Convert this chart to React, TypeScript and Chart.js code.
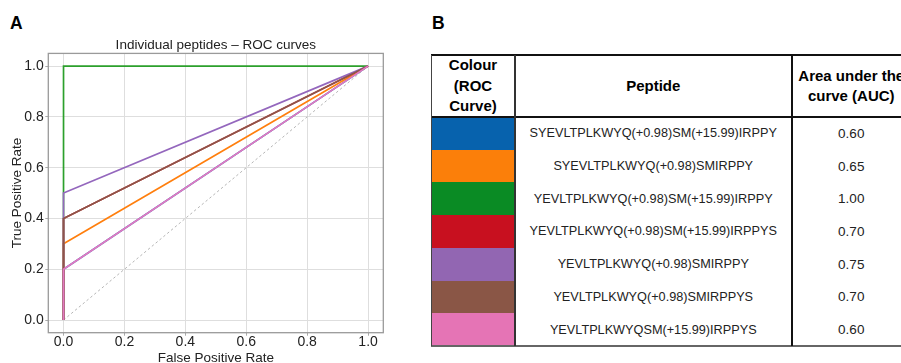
import React, { useEffect, useRef } from "react";
import { Chart, registerables } from "chart.js";

Chart.register(...registerables);

// ---------- data ----------
const peptides = [
  "SYEVLTPLKWYQ(+0.98)SM(+15.99)IRPPY",
  "SYEVLTPLKWYQ(+0.98)SMIRPPY",
  "YEVLTPLKWYQ(+0.98)SM(+15.99)IRPPY",
  "YEVLTPLKWYQ(+0.98)SM(+15.99)IRPPYS",
  "YEVLTPLKWYQ(+0.98)SMIRPPY",
  "YEVLTPLKWYQ(+0.98)SMIRPPYS",
  "YEVLTPLKWYQSM(+15.99)IRPPYS",
];
const aucValues = ["0.60", "0.65", "1.00", "0.70", "0.75", "0.70", "0.60"];
const lineColors = ["#1f77b4", "#ff7f0e", "#2ca02c", "#d62728", "#9467bd", "#8c564b", "#e377c2"];
const swatchColors = ["#0762ad", "#fb7f0a", "#0a8b24", "#c8101f", "#9266b2", "#8a5646", "#e574b5"];

const fprPoints = [0, 0, 1];
const tprBlue = [0, 0.2, 1];
const tprOrange = [0, 0.3, 1];
const tprGreen = [0, 1, 1];
const tprRed = [0, 0.4, 1];
const tprPurple = [0, 0.5, 1];
const tprBrown = [0, 0.4, 1];
const tprPink = [0, 0.2, 1];
const tprSeries = [tprBlue, tprOrange, tprGreen, tprRed, tprPurple, tprBrown, tprPink];

const chanceX = [0, 1];
const chanceY = [0, 1];

const xTicks = [0, 0.2, 0.4, 0.6, 0.8, 1.0];
const yTicks = [0, 0.2, 0.4, 0.6, 0.8, 1.0];

const FONT = "'Liberation Sans', Arial, sans-serif";

const framePlugin = {
  id: "frame",
  afterDatasetsDraw(chart: any) {
    const { ctx, chartArea } = chart;
    ctx.save();
    ctx.strokeStyle = "#9a9a9a";
    ctx.lineWidth = 1.3;
    ctx.strokeRect(chartArea.left, chartArea.top, chartArea.right - chartArea.left, chartArea.bottom - chartArea.top);
    ctx.restore();
  },
};

function RocChart() {
  const ref = useRef<HTMLCanvasElement | null>(null);
  useEffect(() => {
    if (!ref.current) return;
    const datasets: any[] = tprSeries.map((tpr, i) => ({
      label: peptides[i],
      data: fprPoints.map((x, j) => ({ x, y: tpr[j] })),
      borderColor: lineColors[i],
      backgroundColor: lineColors[i],
      borderWidth: 1.7,
      showLine: true,
      pointRadius: 0,
      fill: false,
      tension: 0,
      order: tprSeries.length - i,
    }));
    datasets.push({
      label: "chance",
      data: chanceX.map((x, j) => ({ x, y: chanceY[j] })),
      borderColor: "#b5b5b5",
      borderWidth: 1,
      borderDash: [2.5, 2.5],
      showLine: true,
      pointRadius: 0,
      fill: false,
      order: 100,
    });
    const tickFont = { family: FONT, size: 14 };
    const chart = new Chart(ref.current, {
      type: "scatter",
      data: { datasets },
      plugins: [framePlugin],
      options: {
        animation: false,
        responsive: false,
        devicePixelRatio: 1,
        layout: { padding: { left: 0, right: 420 - 383.3, top: 0, bottom: 0 } },
        plugins: {
          legend: { display: false },
          tooltip: { enabled: false },
          title: {
            display: true,
            text: "Individual peptides \u2013 ROC curves",
            fullSize: false,
            color: "#222",
            font: { family: FONT, size: 13.5, weight: "normal" },
            padding: { top: 37.2, bottom: 0 },
          },
        },
        scales: {
          x: {
            type: "linear",
            min: -0.05,
            max: 1.05,
            afterBuildTicks: (s: any) => {
              s.ticks = xTicks.map((v) => ({ value: v }));
            },
            afterFit: (s: any) => {
              s.height = 363 - 332.7;
            },
            ticks: {
              callback: (v: any) => Number(v).toFixed(1),
              color: "#222",
              font: tickFont,
              padding: -1.5,
              maxRotation: 0,
              autoSkip: false,
            },
            grid: { color: "#dedede", lineWidth: 1, tickColor: "#aaa", tickLength: 3 },
            border: { display: false },
            title: {
              display: true,
              text: "False Positive Rate",
              color: "#222",
              font: { family: FONT, size: 13.5 },
              padding: { top: 0, bottom: -3.4 },
            },
          },
          y: {
            type: "linear",
            min: -0.05,
            max: 1.05,
            afterBuildTicks: (s: any) => {
              s.ticks = yTicks.map((v) => ({ value: v }));
            },
            afterFit: (s: any) => {
              s.width = 48.3;
            },
            ticks: {
              callback: (v: any) => Number(v).toFixed(1),
              color: "#222",
              font: tickFont,
              padding: 1.5,
              autoSkip: false,
            },
            grid: { color: "#dedede", lineWidth: 1, tickColor: "#aaa", tickLength: 3 },
            border: { display: false },
            title: {
              display: true,
              text: "True Positive Rate",
              color: "#222",
              font: { family: FONT, size: 13.5 },
              padding: { top: 9, bottom: 0 },
            },
          },
        },
      } as any,
    });
    return () => chart.destroy();
  }, []);
  return (
    <canvas
      ref={ref}
      width={420}
      height={363}
      style={{ position: "absolute", left: 0, top: 0, width: 420, height: 363 }}
    />
  );
}

function PeptideTable() {
  const left = 431;
  const top = 55;
  const headerBottom = 117;
  const bottom = 346;
  const col1 = 515;
  const col2 = 791.5;
  const right = 911;
  const rowH = (bottom - headerBottom) / peptides.length;
  const headStyle: React.CSSProperties = {
    position: "absolute",
    top,
    height: headerBottom - top,
    display: "flex",
    alignItems: "center",
    justifyContent: "center",
    textAlign: "center",
    fontFamily: FONT,
    fontWeight: "bold",
    fontSize: 15,
    lineHeight: "20.5px",
    color: "#000",
  };
  return (
    <div>
      <div style={{ ...headStyle, left, width: col1 - left }}>
        Colour
        <br />
        (ROC
        <br />
        Curve)
      </div>
      <div style={{ ...headStyle, left: col1, width: col2 - col1 }}>Peptide</div>
      <div style={{ ...headStyle, left: col2, width: right - col2, whiteSpace: "nowrap" }}>
        Area under the
        <br />
        curve (AUC)
      </div>
      {peptides.map((p, i) => {
        const y = headerBottom + i * rowH;
        return (
          <React.Fragment key={p}>
            <div
              style={{
                position: "absolute",
                left,
                top: y,
                width: col1 - left,
                height: rowH,
                background: swatchColors[i],
              }}
            />
            <div
              style={{
                position: "absolute",
                left: col1,
                top: y,
                width: col2 - col1,
                height: rowH,
                display: "flex",
                alignItems: "center",
                justifyContent: "center",
                fontFamily: FONT,
                fontSize: 12.7,
                color: "#222",
                whiteSpace: "nowrap",
              }}
            >
              {p}
            </div>
            <div
              style={{
                position: "absolute",
                left: col2,
                top: y,
                width: right - col2,
                height: rowH,
                display: "flex",
                alignItems: "center",
                justifyContent: "center",
                fontFamily: FONT,
                fontSize: 13.5,
                color: "#222",
              }}
            >
              {aucValues[i]}
            </div>
          </React.Fragment>
        );
      })}
      {/* borders */}
      <div style={{ position: "absolute", left, top: top - 1, width: right - left, height: 2, background: "#111" }} />
      <div style={{ position: "absolute", left, top: headerBottom - 1, width: right - left, height: 2, background: "#111" }} />
      <div style={{ position: "absolute", left, top: bottom - 1, width: right - left, height: 1.5, background: "#666" }} />
      <div style={{ position: "absolute", left: left - 0.5, top, width: 1.5, height: bottom - top, background: "#444" }} />
      <div style={{ position: "absolute", left: col1 - 0.75, top, width: 1.5, height: bottom - top, background: "#333" }} />
      <div style={{ position: "absolute", left: col2 - 1, top, width: 2, height: bottom - top, background: "#111" }} />
    </div>
  );
}

export default function App() {
  const panelLabel: React.CSSProperties = {
    position: "absolute",
    fontFamily: FONT,
    fontWeight: "bold",
    fontSize: 17.5,
    lineHeight: "17.5px",
    color: "#000",
  };
  return (
    <div
      style={{
        position: "fixed",
        left: 0,
        top: 0,
        width: 901,
        height: 363,
        overflow: "hidden",
        background: "#fff",
      }}
    >
      <div style={{ ...panelLabel, left: 10, top: 14.5 }}>A</div>
      <div style={{ ...panelLabel, left: 432, top: 14.5 }}>B</div>
      <RocChart />
      <PeptideTable />
    </div>
  );
}
